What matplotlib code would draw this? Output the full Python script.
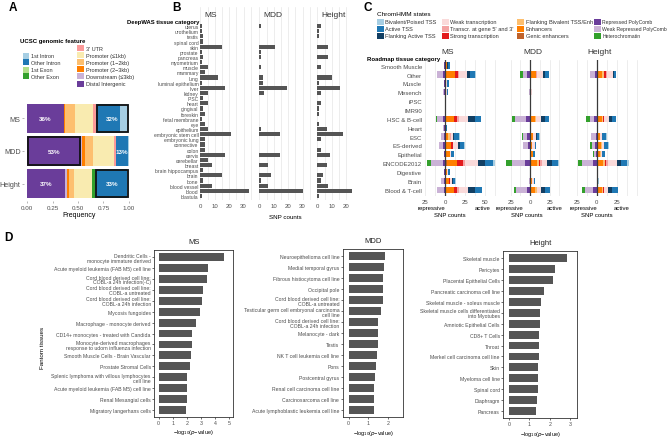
import numpy as np
import matplotlib.pyplot as plt
from matplotlib.patches import Rectangle
from matplotlib.ticker import MultipleLocator

plt.rcParams['font.family'] = ['Liberation Sans', 'DejaVu Sans']

# ---------------- datos panel A ----------------
feat_names = ['Distal Intergenic', 'Downstream (<=3kb)', 'Promoter (2-3kb)', 'Promoter (1-2kb)',
              'Promoter (<=1kb)', "3' UTR", 'Other Exon', '1st Exon', 'Other Intron', '1st Intron']
feat_colors = ['#6a3d9a', '#cab2d6', '#ff7f00', '#fdbf6f', '#f9ebb0', '#fb9a99',
               '#33a02c', '#b2df8a', '#1f78b4', '#a6cee3']
gwas = ['MS', 'MDD', 'Height']
frac_MS = [0.36, 0.00, 0.01, 0.10, 0.18, 0.03, 0.00, 0.00, 0.23, 0.09]
frac_MDD = [0.53, 0.01, 0.03, 0.08, 0.20, 0.02, 0.00, 0.00, 0.12, 0.01]
frac_Height = [0.37, 0.02, 0.02, 0.05, 0.18, 0.00, 0.03, 0.00, 0.31, 0.02]

# ---------------- datos panel B ----------------
deepwas_cats = ['uterus', 'urothelium', 'testis', 'spinal cord', 'skin', 'prostate', 'pancreas',
                'myometrium', 'muscle', 'mammary', 'lung', 'luminal epithelium', 'liver', 'kidney',
                'iPSC', 'heart', 'gingival', 'foreskin', 'fetal membrane', 'eye', 'epithelium',
                'embryonic stem cell', 'embryonic lung', 'connective', 'colon', 'cervix',
                'cerebellar', 'breast', 'brain hippocampus', 'brain', 'bone', 'blood vessel',
                'blood', 'blastula']
snp_MS = [1, 1, 2, 2, 15, 1, 2, 1, 5, 3.5, 12, 1, 17, 5, 2, 5, 2, 3, 1, 3, 5, 21, 3.4, 3.4,
          3.4, 17, 5, 8.3, 2, 14.7, 2, 8.3, 34, 1]
snp_MDD = [1, 0, 0, 0, 11, 1, 1, 0, 1, 0, 2.3, 2.3, 19.5, 3.4, 0, 0, 0, 0, 0, 0, 1, 14, 0, 0,
           0, 14, 0, 5.7, 0, 8.3, 1, 5.7, 30, 0]
snp_Height = [2.7, 1.4, 1.4, 0, 7.6, 0, 7.6, 0, 2.5, 0, 10, 1.4, 16, 2.5, 0, 2.5, 1.4, 1.4, 0,
              1, 6.4, 17.5, 2.5, 0, 2.5, 9, 0, 6.4, 0, 3.9, 2.5, 7.6, 25, 1.4]

# ---------------- datos panel C ----------------
roadmap_cats = ['Smooth Muscle', 'Other', 'Muscle', 'Mesench', 'iPSC', 'IMR90', 'HSC & B-cell',
                'Heart', 'ESC', 'ES-derived', 'Epithelial', 'ENCODE2012', 'Digestive', 'Brain',
                'Blood & T-cell']
pos_states = ['Genic enhancers', 'Enhancers', 'Flanking Bivalent TSS/Enh', 'Strong transcription',
              "Transcr. at gene 5' and 3'", 'Weak transcription', 'Flanking Active TSS',
              'Active TSS', 'Bivalent/Poised TSS']
neg_states = ['Repressed PolyComb', 'Weak Repressed PolyComb', 'Heterochromatin']
state_colors = {'Bivalent/Poised TSS': '#a6cee3', 'Active TSS': '#1f78b4',
                'Flanking Active TSS': '#123f63', 'Weak transcription': '#fadada',
                "Transcr. at gene 5' and 3'": '#f4a3a3', 'Strong transcription': '#e31a1c',
                'Flanking Bivalent TSS/Enh': '#fdbf6f', 'Enhancers': '#ff7f00',
                'Genic enhancers': '#c0622a', 'Repressed PolyComb': '#6a3d9a',
                'Weak Repressed PolyComb': '#cab2d6', 'Heterochromatin': '#33a02c'}

# filas = pos_states, luego neg_states; columnas = roadmap_cats
chrom_MS = [[1, 1, 0, 0, 0, 0, 1, 0, 1, 1, 1, 2, 0, 1, 1],
            [1, 11, 1, 1, 1, 1, 10, 1, 3, 7, 5, 13, 2, 4, 10],
            [0, 0, 0, 0, 0, 0, 0, 0, 2, 0, 0, 0, 0, 0, 0],
            [0, 4, 0, 0, 0, 0, 4, 0, 0, 2, 0, 7.5, 0, 1, 4],
            [0, 2, 0, 0, 0, 0, 3, 0, 1, 0, 0, 3, 0, 0, 3],
            [1, 9.5, 1, 1, 0, 0, 11, 0, 3, 6, 2, 16, 2, 3, 11],
            [1, 4, 1, 0, 0, 0, 8.5, 0, 1, 3, 0, 8.5, 0, 1, 8],
            [2, 6.5, 2, 2, 0, 0, 7, 2, 7, 5, 3, 9.5, 2, 3, 9],
            [0, 0.5, 0, 0, 0, 0, 0.5, 0, 1, 1, 0, 3.5, 0, 1, 0],
            [1, 2, 1, 1, 0, 0, 2, 1, 1, 2, 1, 3, 1, 1, 1.5],
            [0, 8, 0, 1, 0, 0, 7.5, 1, 4, 6, 0, 15, 0, 4, 8],
            [0, 0, 0, 0, 0, 0, 1.5, 0, 0, 0, 0, 5, 0, 0, 0]]
chrom_MDD = [[0, 1, 0, 0, 0, 0, 1, 0, 1, 0, 1, 1.5, 0, 0, 1],
             [0, 6.7, 0, 0, 0, 0, 5, 0, 3, 3, 3, 8, 0, 2, 6],
             [0, 0, 0, 0, 0, 0, 1.7, 0, 0, 0, 0, 2, 0, 0, 1.5],
             [0, 0, 0, 0, 0, 0, 0, 0, 0, 0, 0, 1.3, 0, 0, 0],
             [0, 1, 0, 0, 0, 0, 0, 0, 0, 0, 0, 2, 0, 0, 0],
             [0, 8, 0, 2, 0, 0, 6, 0, 4, 3, 0, 7.4, 0, 3, 5],
             [0, 2, 0, 0, 0, 0, 5.5, 0, 0.5, 0, 0, 6.4, 0, 0, 5.5],
             [0, 6, 0, 0, 0, 0, 5.6, 0, 3, 2, 2.5, 7.7, 0, 1, 6.4],
             [0, 0, 0, 0, 0, 0, 0, 0, 1, 0, 0, 1.3, 0, 0, 0],
             [0, 3.4, 0, 0, 0, 0, 5, 0, 4, 2, 0, 6.4, 0, 0, 4.3],
             [0, 6, 0, 1, 0, 0, 14, 0, 5.5, 6.5, 0, 17, 0, 1, 14],
             [0, 3, 0, 0, 0, 0, 4, 0, 0.5, 0, 0, 7.5, 0, 0, 2.6]]
chrom_Height = [[0, 1, 0, 0, 0, 0, 1, 0, 1, 1, 0, 1, 0, 0, 1],
                [0, 5, 0, 0, 0, 0, 5, 0, 3, 4, 4, 7, 0, 0, 5],
                [0, 3, 0, 0, 0, 0, 2.3, 0, 0, 1, 1, 2.4, 0, 0, 1.5],
                [0, 2.5, 0, 0, 0, 0, 1.3, 0, 0, 0, 0, 1.2, 0, 0, 1.7],
                [0, 1, 0, 0, 0, 0, 0, 0, 0, 0.5, 0, 2, 0, 0, 0],
                [0, 8, 0, 1, 0, 0, 6, 0, 2, 2, 1.5, 11.3, 0, 1, 5.4],
                [0, 1, 0, 0, 0, 0, 3, 0, 1, 1, 0, 5, 0, 0, 4.2],
                [0, 3, 2, 0, 0, 0, 5, 0, 5, 5, 4, 7.5, 0, 0, 8.3],
                [0, 0, 0, 0, 0, 0, 0, 0, 1, 1, 0, 2.5, 0, 2, 0],
                [0, 2.5, 0, 0, 0, 0, 2.9, 0, 1.3, 2, 1, 4.2, 0, 0, 4.2],
                [0, 6.5, 0, 0, 0, 0, 5.4, 0, 6, 4, 3, 13.8, 0, 0, 10.4],
                [0, 0, 0, 0, 0, 0, 5, 0, 0, 2, 1, 5.8, 0, 0, 3.4]]

# ---------------- datos panel D ----------------
fantom_MS = ['Dendritic Cells -\nmonocyte immature derived', 'Acute myeloid leukemia (FAB M5) cell line',
             'Cord blood derived cell line:\nCOBL-a 24h infection(-C)',
             'Cord blood derived cell line:\nCOBL-a untreated',
             'Cord blood derived cell line:\nCOBL-a 24h infection', 'Mycosis fungoides',
             'Macrophage - monocyte derived', 'CD14+ monocytes - treated with Candida',
             'Monocyte-derived macrophages\nresponse to udorn influenza infection',
             'Smooth Muscle Cells - Brain Vascular', 'Prostate Stromal Cells',
             'Splenic lymphoma with villous lymphocytes\ncell line',
             'Acute myeloid leukemia (FAB M5) cell line', 'Renal Mesangial cells',
             'Migratory langerhans cells']
logp_MS = [4.64, 3.54, 3.42, 3.14, 3.11, 2.97, 2.66, 2.40, 2.40, 2.29, 2.26, 2.05, 2.0, 2.0, 1.93]
fantom_MDD = ['Neuroepithelioma cell line', 'Medial temporal gyrus', 'Fibrous histiocytoma cell line',
              'Occipital pole', 'Cord blood derived cell line:\nCOBL-a untreated',
              'Testicular germ cell embryonal carcinoma\ncell line',
              'Cord blood derived cell line:\nCOBL-a 24h infection', 'Melanocyte - dark', 'Testis',
              'NK T cell leukemia cell line', 'Pons', 'Postcentral gyrus',
              'Renal cell carcinoma cell line', 'Carcinosarcoma cell line',
              'Acute lymphoblastic leukemia cell line']
logp_MDD = [1.83, 1.81, 1.73, 1.71, 1.71, 1.61, 1.49, 1.46, 1.46, 1.43, 1.38, 1.31, 1.29, 1.28, 1.28]
fantom_Height = ['Skeletal muscle', 'Pericytes', 'Placental Epithelial Cells',
                 'Pancreatic carcinoma cell line', 'Skeletal muscle - soleus muscle',
                 'Skeletal muscle cells differentiated\ninto Myotubes', 'Amniotic Epithelial Cells',
                 'CD8+ T Cells', 'Throat', 'Merkel cell carcinoma cell line', 'Skin',
                 'Myeloma cell line', 'Spinal cord', 'Diaphragm', 'Pancreas']
logp_Height = [2.84, 2.25, 2.18, 1.71, 1.58, 1.51, 1.51, 1.49, 1.49, 1.48, 1.44, 1.44, 1.43, 1.39, 1.31]

W, H = 668, 439
gris = '#4d4d4d'
fig = plt.figure(figsize=(W / 100, H / 100), dpi=100)


def ejes(x0, y0, x1, y1):
    return fig.add_axes([x0 / W, 1 - y1 / H, (x1 - x0) / W, (y1 - y0) / H])


def texto(x, y, s, **kw):
    fig.text(x / W, 1 - y / H, s, **kw)


def cuadro(x, y, w, h, color, z=1):
    fig.add_artist(Rectangle((x / W, 1 - (y + h) / H), w / W, h / H,
                             transform=fig.transFigure, color=color, lw=0, zorder=z))


# ================= A =================
texto(13, 8, 'A', fontsize=8.5, fontweight='bold', va='center', ha='center')
texto(20, 42, 'UCSC genomic feature', fontsize=4.3, fontweight='bold', va='center')
izq = ['1st Intron', 'Other Intron', '1st Exon', 'Other Exon']
izq_y = [56.7, 63.3, 70.5, 77.3]
for nom, yy in zip(izq, izq_y):
    cuadro(22.5, yy - 3, 6.5, 6, feat_colors[feat_names.index(nom)])
    texto(31, yy, nom, fontsize=4, va='center', color='#333333')
der = ["3' UTR", 'Promoter (<=1kb)', 'Promoter (1-2kb)', 'Promoter (2-3kb)',
       'Downstream (<=3kb)', 'Distal Intergenic']
der_txt = ["3' UTR", 'Promoter (≤1kb)', 'Promoter (1−2kb)', 'Promoter (2−3kb)',
           'Downstream (≤3kb)', 'Distal Intergenic']
der_y = [49.3, 56.2, 63.3, 70.3, 77.3, 84.7]
for nom, t, yy in zip(der, der_txt, der_y):
    cuadro(77, yy - 3, 6.5, 6, feat_colors[feat_names.index(nom)])
    texto(85.5, yy, t, fontsize=4, va='center', color='#333333')

axA = ejes(24, 101.6, 134, 202.4)
fracs = [frac_MS, frac_MDD, frac_Height]
yA = [2, 1, 0]
for y, fr in zip(yA, fracs):
    left = 0
    for v, c in zip(fr, feat_colors):
        axA.barh(y, v, left=left, height=0.9, color=c, lw=0)
        left += v
# cajas y porcentajes
cajas = [(2, 0.68, 0.32, True, '32%'), (2, 0.0, 0.36, False, '36%'),
         (1, 0.0, 0.53, True, '53%'), (1, 0.87, 0.13, False, '13%'),
         (0, 0.0, 0.37, False, '37%'), (0, 0.67, 0.33, True, '33%')]
for y, x0, w, marco, lab in cajas:
    if marco:
        axA.add_patch(Rectangle((x0 + 0.006, y - 0.43), w - 0.012, 0.86, fill=False,
                                ec='#111111', lw=1.3, zorder=4))
    axA.text(x0 + w / 2, y, lab, color='white', fontsize=4.5, fontweight='bold',
             ha='center', va='center', zorder=5)
axA.set_xlim(-0.03, 1.05)
axA.set_ylim(-0.55, 2.55)
axA.set_yticks(yA)
axA.set_yticklabels(gwas, fontsize=5.2, color=gris)
axA.set_xticks([0, 0.25, 0.5, 0.75, 1])
axA.set_xticklabels(['0.00', '0.25', '0.50', '0.75', '1.00'], fontsize=4.5, color=gris)
axA.tick_params(length=1.5, width=0.5, color='#999999', pad=1)
for s in axA.spines.values():
    s.set_visible(False)
axA.set_xlabel('Frequency', fontsize=5, labelpad=1)

# ================= B =================
texto(176, 8, 'B', fontsize=8.5, fontweight='bold', va='center', ha='center')
texto(199, 22.7, 'DeepWAS tissue category', fontsize=4.2, fontweight='bold', va='center', ha='right')
yB = np.arange(len(deepwas_cats))[::-1]
facetas_B = [('MS', snp_MS, 200), ('MDD', snp_MDD, 259), ('Height', snp_Height, 317)]
for i, (nom, vals, x0) in enumerate(facetas_B):
    ax = ejes(x0, 8, x0 + 53, 201)
    ax.barh(yB, vals, height=0.8, color='#555555', lw=0, zorder=3)
    ax.set_xlim(-0.2, 36.5)
    ax.set_ylim(-0.78, 36.7)
    ax.xaxis.set_major_locator(MultipleLocator(10))
    ax.xaxis.set_minor_locator(MultipleLocator(5))
    ax.grid(axis='x', which='both', color='#e6e6e6', lw=0.5, zorder=0)
    for s in ax.spines.values():
        s.set_visible(False)
    ax.tick_params(axis='x', labelsize=4.3, labelcolor=gris, length=0, pad=2)
    ax.tick_params(axis='x', which='minor', length=0)
    if i == 0:
        ax.set_yticks(yB)
        ax.set_yticklabels(deepwas_cats, fontsize=3.6, color=gris)
        ax.tick_params(axis='y', length=0, pad=1)
    else:
        ax.set_yticks([])
    ax.text(3, 35.2, nom, fontsize=6, color='#333333', va='center')
texto(285, 218, 'SNP counts', fontsize=4.5, ha='center', va='center')

# ================= C =================
# fondo blanco que tapa lo que sobra de B (por encima de sus ejes, debajo de los de C)
cuadro(352, 0, W - 352, 230, 'white', z=0.5)
texto(368, 8, 'C', fontsize=8.5, fontweight='bold', va='center', ha='center')
texto(377, 15, 'ChromHMM states', fontsize=4.6, va='center')
leg_cols = [(377, ['Bivalent/Poised TSS', 'Active TSS', 'Flanking Active TSS'], 4.1),
            (442, ['Weak transcription', "Transcr. at gene 5' and 3'", 'Strong transcription'], 4.1),
            (517, ['Flanking Bivalent TSS/Enh', 'Enhancers', 'Genic enhancers'], 4.1),
            (594, ['Repressed PolyComb', 'Weak Repressed PolyComb', 'Heterochromatin'], 3.7)]
for xk, noms, fs in leg_cols:
    for nom, yy in zip(noms, [22.7, 29.7, 36.7]):
        cuadro(xk, yy - 3, 6.5, 6, state_colors[nom])
        texto(xk + 8.5, yy, nom, fontsize=fs, va='center', color='#333333')
texto(367, 59, 'Roadmap tissue category', fontsize=4.3, fontweight='bold', va='center')

yC = np.arange(len(roadmap_cats))[::-1]
facetas_C = [('MS', chrom_MS, 424, 445, 502, 0.8, [-25, 0, 25, 50], 431, 483, 450),
             ('MDD', chrom_MDD, 504, 530, 568, 0.78, [-25, 0, 25], 510, 555, 527),
             ('Height', chrom_Height, 571, 596.7, 640, 0.8, [-25, 0, 25], 583, 622, 597)]
for i, (nom, datos, x0, cero, x1, ppu, ticks, xr, xa, xs) in enumerate(facetas_C):
    ax = ejes(x0, 61, x1, 197)
    ax.set_zorder(2)
    ax.patch.set_alpha(0)
    pos = datos[:len(pos_states)]
    neg = datos[len(pos_states):]
    izq_acum = np.zeros(len(roadmap_cats))
    for st, vals in zip(pos_states, pos):
        vals = np.array(vals, dtype=float)
        ax.barh(yC, vals, left=izq_acum, height=0.72, color=state_colors[st], lw=0, zorder=3)
        izq_acum += vals
    acum = np.zeros(len(roadmap_cats))
    for st, vals in zip(neg_states, neg):
        vals = np.array(vals, dtype=float)
        ax.barh(yC, -vals, left=-acum, height=0.72, color=state_colors[st], lw=0, zorder=3)
        acum += vals
    ax.axvline(0, color='#3a3a3a', lw=0.9, zorder=5)
    ax.set_xlim(-(cero - x0) / ppu, (x1 - cero) / ppu)
    ax.set_ylim(-0.71, 14.64)
    ax.set_xticks(ticks)
    ax.set_xticklabels([str(abs(t)) for t in ticks], fontsize=4.3, color=gris)
    ax.xaxis.set_minor_locator(MultipleLocator(12.5))
    ax.grid(axis='x', which='both', color='#e6e6e6', lw=0.5, zorder=0)
    ax.tick_params(axis='x', which='both', length=0, pad=2.5)
    for s in ax.spines.values():
        s.set_visible(False)
    if i == 0:
        ax.set_yticks(yC)
        ax.set_yticklabels(roadmap_cats, fontsize=4.3, color=gris)
        ax.tick_params(axis='y', length=0, pad=1.5)
    else:
        ax.set_yticks([])
    texto(cero + 3, 53, nom, fontsize=6, color='#333333', ha='center', va='center')
    texto(xr, 208.5, 'repressive', fontsize=4.3, ha='center', va='center')
    texto(xa, 208.5, 'active', fontsize=4.3, ha='center', va='center')
    texto(xs, 216, 'SNP counts', fontsize=4.3, ha='center', va='center')

# ================= D =================
texto(8, 238, 'D', fontsize=8.5, fontweight='bold', va='center', ha='center')
texto(43, 348, 'Fantom tissues', fontsize=4.5, rotation=90, ha='center', va='center')
facetas_D = [('MS', fantom_MS, logp_MS, 154.3, 233.3, 251, 417.7, (-0.3, 5.3), [0, 1, 2, 3, 4, 5]),
             ('MDD', fantom_MDD, logp_MDD, 342.7, 403.3, 250, 418, (-0.3, 2.76), [0, 1, 2]),
             ('Height', fantom_Height, logp_Height, 503.3, 577.3, 251.7, 419, (-0.28, 3.36), [0, 1, 2, 3])]
yD = np.arange(15)[::-1]
for nom, labs, vals, x0, x1, y0, y1, xl, ticks in facetas_D:
    ax = ejes(x0, y0, x1, y1)
    ax.barh(yD, vals, height=0.72, color='#555555', lw=0)
    ax.set_xlim(*xl)
    ax.set_ylim(-0.62, 14.66)
    ax.set_xticks(ticks)
    ax.set_yticks(yD)
    ax.set_yticklabels(labs, fontsize=3.7, color=gris, linespacing=0.95)
    ax.tick_params(axis='x', labelsize=3.8, labelcolor=gris, pad=1)
    ax.tick_params(length=1.5, width=0.5, color='#333333')
    ax.tick_params(axis='y', pad=1)
    for s in ax.spines.values():
        s.set_color('#333333')
        s.set_linewidth(0.6)
    ax.set_xlabel('−log$_{10}$($p$−value)', fontsize=4, labelpad=1.5)
    ax.set_title(nom, fontsize=5.5, pad=5, color='#222222')

plt.savefig('out.png', dpi=100)
